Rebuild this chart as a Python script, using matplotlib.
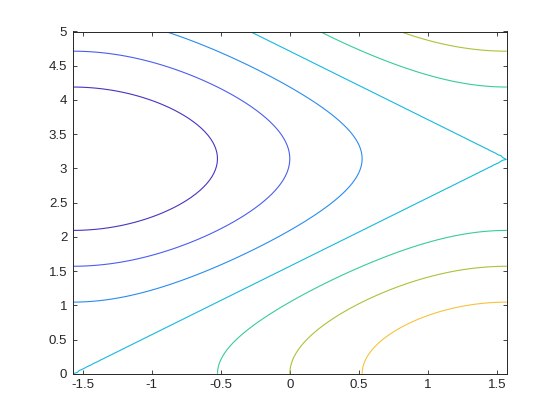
import numpy as np
import matplotlib
matplotlib.use("Agg")
import matplotlib.pyplot as plt

# Surface z = sin(x) + cos(y) sampled on a grid
x_vals = np.linspace(-np.pi / 2, np.pi / 2, 100)
y_vals = np.linspace(0, 5, 100)
levels = [-1.5, -1.0, -0.5, 0.0, 0.5, 1.0, 1.5]
level_colors = ["#4536c2", "#4a5ef2", "#2a8cf0", "#16b9de", "#38cc99", "#a8c438", "#f8c23d"]
xticks = [-1.5, -1, -0.5, 0, 0.5, 1, 1.5]
xticklabels = ["-1.5", "-1", "-0.5", "0", "0.5", "1", "1.5"]
yticks = [0, 0.5, 1, 1.5, 2, 2.5, 3, 3.5, 4, 4.5, 5]
yticklabels = ["0", "0.5", "1", "1.5", "2", "2.5", "3", "3.5", "4", "4.5", "5"]

X, Y = np.meshgrid(x_vals, y_vals)
Z = np.sin(X) + np.cos(Y)

plt.rcParams['font.family'] = ['Liberation Sans', 'DejaVu Sans']
fig = plt.figure(figsize=(5.6, 4.2), dpi=100)
ax = fig.add_axes([0.13, 0.11, 0.775, 0.815])
ax.contour(X, Y, Z, levels=levels, colors=level_colors, linewidths=0.8)

ax.set_xlim(-np.pi / 2, np.pi / 2)
ax.set_ylim(0, 5)
ax.set_xticks(xticks)
ax.set_xticklabels(xticklabels)
ax.set_yticks(yticks)
ax.set_yticklabels(yticklabels)
ax.tick_params(direction='in', length=3, width=0.6, top=True, right=True,
               labelsize=9.5, colors='#262626', pad=4)
for s in ax.spines.values():
    s.set_color('#262626')
    s.set_linewidth(0.7)

fig.savefig("out.png", dpi=100)
